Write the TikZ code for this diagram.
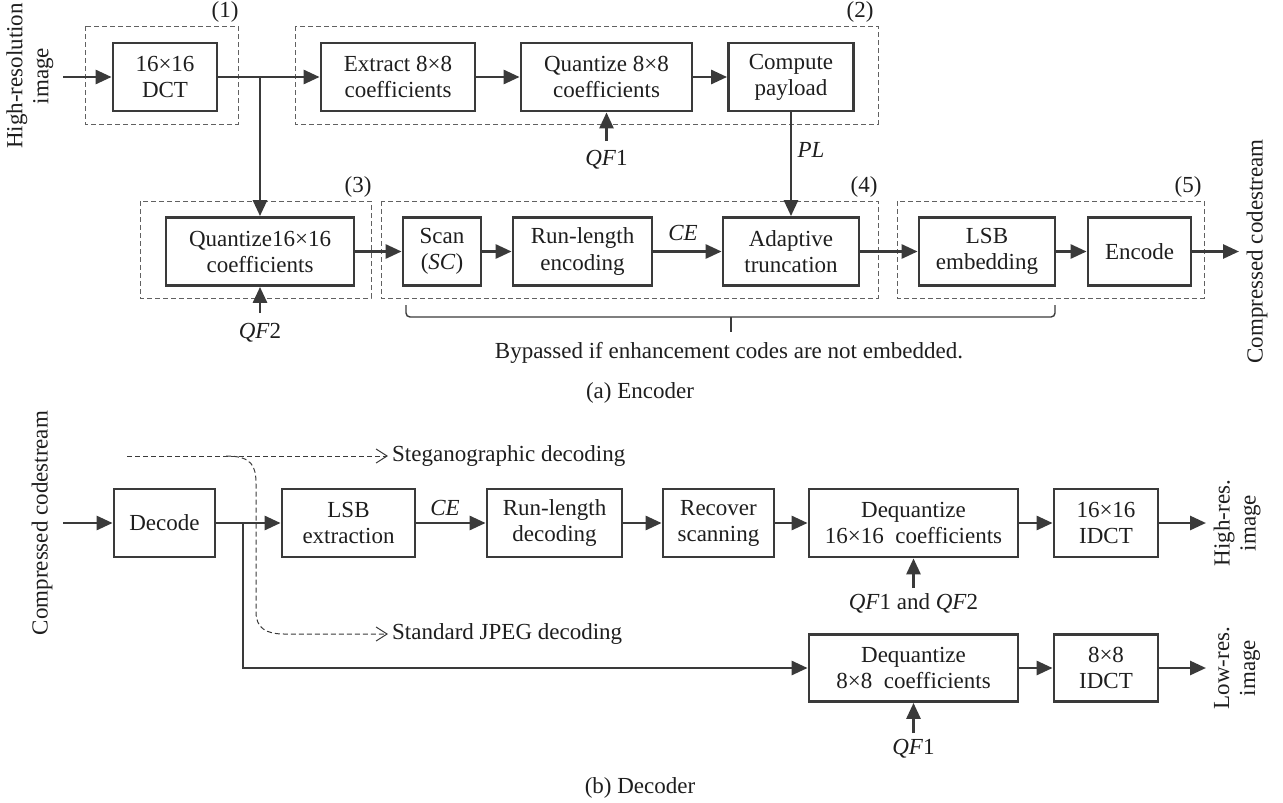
\documentclass[tikz,border=0pt]{standalone}
\usepackage{fontspec}
\setmainfont{Liberation Serif}
\usetikzlibrary{arrows.meta}
\definecolor{ln}{HTML}{3A3A3A}
\definecolor{tx}{HTML}{1E1E1E}
\tikzset{
  blk/.style={draw=ln, line width=2.8pt, rectangle, inner sep=0pt, align=center, text=tx,
    minimum height=68pt},
  grp/.style={draw=ln!80, line width=1pt, dash pattern=on 5pt off 3pt},
  arr/.style={draw=ln, line width=2.8pt, -{Triangle[length=16pt,width=14pt]}},
  seg/.style={draw=ln, line width=2.8pt},
  dsh/.style={draw=ln, line width=1pt, dash pattern=on 5pt off 3pt, -{Straight Barb[length=11pt,width=14pt,line width=1pt]}},
  lbl/.style={text=tx, inner sep=0pt, align=center},
}
\begin{document}
\begin{tikzpicture}[x=1pt,y=-1pt, font=\fontsize{23}{26}\selectfont]
\useasboundingbox (0,0) rectangle (1283,803);
% ---------------- Encoder ----------------
\draw[grp] (85,26) rectangle (238,124);
\draw[grp] (295,26) rectangle (878,124);
\draw[grp] (140,201) rectangle (371,298);
\draw[grp] (381,201) rectangle (878,298);
\draw[grp] (897,201) rectangle (1204,298);
\node[lbl] (g1) at (225,12) {(1)};
\node[lbl] (g2) at (860,12) {(2)};
\node[lbl] (g3) at (358,187) {(3)};
\node[lbl] (g4) at (864,187) {(4)};
\node[lbl] (g5) at (1188,187) {(5)};

\node[lbl, rotate=90] (hri) at (30,76) {High-resolution\\image};
\node[blk, minimum width=104pt] (dct) at (165,77) {16×16\\DCT};
\node[blk, minimum width=154pt] (ext) at (398,77) {Extract 8×8\\coefficients};
\node[blk, minimum width=171pt] (q8) at (606.5,77) {Quantize 8×8\\coefficients};
\node[blk, minimum width=125pt] (pay) at (791,77) {Compute\\payload};

\node[blk, minimum width=188pt] (q16) at (260,251.5) {Quantize16×16\\coefficients};
\node[blk, minimum width=78pt] (scan) at (442,251.5) {Scan\\(\textit{SC})};
\node[blk, minimum width=139pt] (rle) at (582.5,251.5) {Run-length\\encoding};
\node[blk, minimum width=136pt] (adp) at (791,251.5) {Adaptive\\truncation};
\node[blk, minimum width=136pt] (lsbe) at (987,251.5) {LSB\\embedding};
\node[blk, minimum width=103pt] (enc) at (1139.5,251.5) {Encode};
\node[lbl, rotate=90] (ccs1) at (1257,251.5) {Compressed codestream};

\coordinate (in1) at (63,77);
\coordinate (j1) at (260,77);
\coordinate (qf1s) at (606.5,141);
\coordinate (qf2s) at (260,313);
\coordinate (out1) at (1239,251.5);

\draw[arr] (in1) -- (dct.west);
\draw[seg] (dct.east) -- (j1);
\draw[arr] (j1) -- (ext.west);
\draw[arr] (j1) -- (q16.north);
\draw[arr] (ext.east) -- (q8.west);
\draw[arr] (q8.east) -- (pay.west);
\draw[arr] (qf1s) -- (q8.south);
\node[lbl] (qf1) at (606.5,160) {\textit{QF}1};
\draw[arr] (pay.south) -- (adp.north);
\node[lbl] (pl) at (811,150) {\textit{PL}};
\draw[arr] (qf2s) -- (q16.south);
\node[lbl] (qf2) at (260,333) {\textit{QF}2};
\draw[arr] (q16.east) -- (scan.west);
\draw[arr] (scan.east) -- (rle.west);
\draw[arr] (rle.east) -- (adp.west);
\node[lbl] (ce1) at (683,233) {\textit{CE}};
\draw[arr] (adp.east) -- (lsbe.west);
\draw[arr] (lsbe.east) -- (enc.west);
\draw[arr] (enc.east) -- (out1);

% brace
\draw[ln, line width=1.4pt, rounded corners=4pt] (406,305) -- (406,317) -- (1055,317) -- (1055,305);
\draw[ln, line width=1.4pt] (731,317) -- (731,332);
\node[lbl] (byp) at (729,353) {Bypassed if enhancement codes are not embedded.};
\node[lbl] (capa) at (640,393) {(a) Encoder};

% ---------------- Decoder ----------------
\node[lbl, rotate=90] (ccs2) at (42,523) {Compressed codestream};
\node[blk, minimum width=101pt] (dec) at (164.5,523) {Decode};
\node[blk, minimum width=133pt] (lsbx) at (348.5,523) {LSB\\extraction};
\node[blk, minimum width=135pt] (rld) at (554.5,523) {Run-length\\decoding};
\node[blk, minimum width=111pt] (rec) at (718.5,523) {Recover\\scanning};
\node[blk, minimum width=209pt] (dq16) at (913.5,523) {Dequantize\\16×16\ \ coefficients};
\node[blk, minimum width=104pt] (idct16) at (1106,523) {16×16\\IDCT};
\node[lbl, rotate=90] (hr) at (1237,523) {High-res.\\image};

\node[blk, minimum width=209pt, minimum height=67pt] (dq8) at (913.5,668) {Dequantize\\8×8\ \ coefficients};
\node[blk, minimum width=104pt, minimum height=67pt] (idct8) at (1106,668) {8×8\\IDCT};
\node[lbl, rotate=90] (lr) at (1237,668) {Low-res.\\image};

\coordinate (in2) at (63,523);
\coordinate (j2) at (243,523);
\coordinate (out2) at (1206,523);
\coordinate (out3) at (1206,668);
\coordinate (qf12s) at (913.5,588);
\coordinate (qf1bs) at (913.5,733);

\draw[arr] (in2) -- (dec.west);
\draw[seg] (dec.east) -- (j2);
\draw[arr] (j2) -- (lsbx.west);
\draw[arr] (lsbx.east) -- (rld.west);
\node[lbl] (ce2) at (445,508) {\textit{CE}};
\draw[arr] (rld.east) -- (rec.west);
\draw[arr] (rec.east) -- (dq16.west);
\draw[arr] (dq16.east) -- (idct16.west);
\draw[arr] (idct16.east) -- (out2);
\draw[arr] (qf12s) -- (dq16.south);
\node[lbl] (qf12) at (913.5,603) {\textit{QF}1 and \textit{QF}2};
\draw[arr] (j2) |- (dq8.west);
\draw[arr] (dq8.east) -- (idct8.west);
\draw[arr] (idct8.east) -- (out3);
\draw[arr] (qf1bs) -- (dq8.south);
\node[lbl] (qf1b) at (913.5,749) {\textit{QF}1};

% dashed routes
\coordinate (s0) at (127,456);
\coordinate (s1) at (388,456);
\coordinate (c0) at (226,456);
\coordinate (c1) at (388,634);
\draw[dsh] (s0) -- (s1);
\node[lbl, anchor=west] (steg) at (392,456) {Steganographic decoding};
\draw[dsh] (c0) .. controls (252,456) and (256,466) .. (256,484) -- (256,612) .. controls (256,628) and (266,634) .. (284,634) -- (c1);
\node[lbl, anchor=west] (std) at (392,634) {Standard JPEG decoding};
\node[lbl] (capb) at (640,788) {(b) Decoder};
\end{tikzpicture}
\end{document}
